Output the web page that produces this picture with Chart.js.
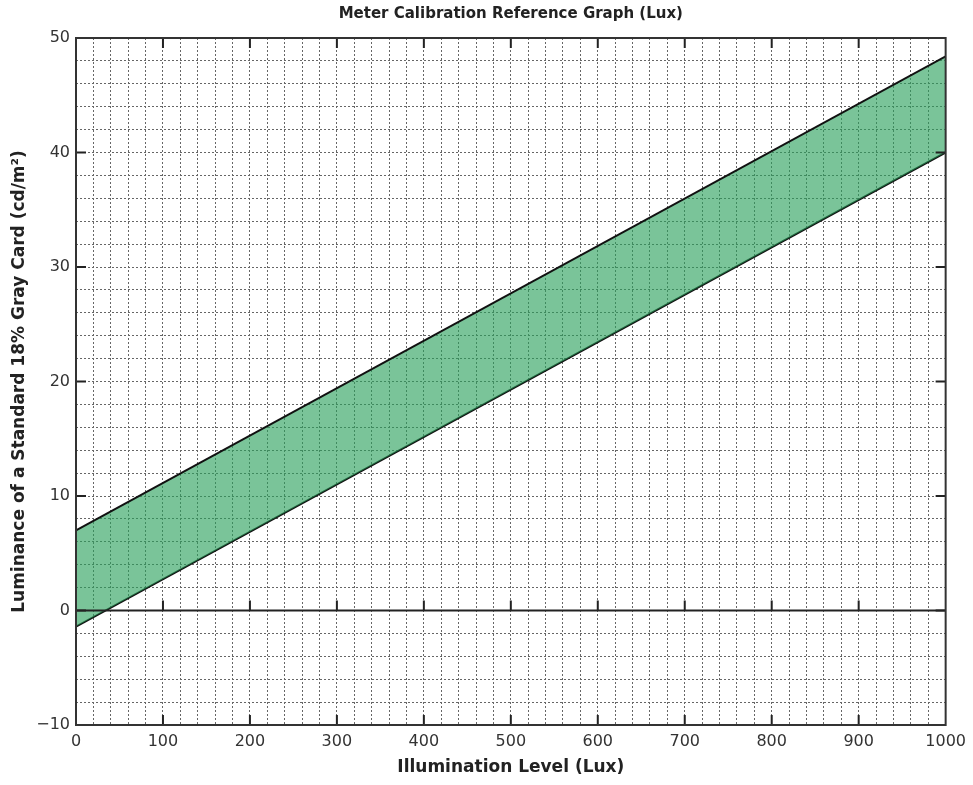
<!DOCTYPE html>
<html>
<head>
<meta charset="utf-8">
<title>Meter Calibration Reference Graph (Lux)</title>
<script src="https://cdn.jsdelivr.net/npm/chart.js@4/dist/chart.umd.min.js"></script>
<style>
  html, body { margin: 0; padding: 0; background: #fff; }
  #wrap { width: 973px; height: 785px; position: relative; }
</style>
</head>
<body>
<div id="wrap"><canvas id="calChart"></canvas></div>
<script>
// illumination (lux) at the two ends of the band
const illumination = [0, 1000];
// upper / lower edge of the acceptable luminance band (cd/m2)
const upperLuminance = [7.0, 48.4];
const lowerLuminance = [-1.4, 40.0];

const xRange = [0, 1000];
const yRange = [-10, 50];

const FONT = 'DejaVu Sans, Verdana, sans-serif';

// frame, zero line and the short inward major ticks
const framePlugin = {
  id: 'frame',
  afterDatasetsDraw(chart) {
    const { ctx, chartArea: a, scales: { x, y } } = chart;
    ctx.save();
    ctx.strokeStyle = '#222';
    ctx.lineWidth = 2;

    // zero reference line
    const y0 = y.getPixelForValue(0);
    ctx.beginPath();
    ctx.moveTo(a.left, y0);
    ctx.lineTo(a.right, y0);
    ctx.stroke();

    // major ticks
    ctx.beginPath();
    for (let v = xRange[0] + 100; v < xRange[1]; v += 100) {
      const px = x.getPixelForValue(v);
      ctx.moveTo(px, a.top); ctx.lineTo(px, a.top + 10);
      ctx.moveTo(px, a.bottom); ctx.lineTo(px, a.bottom - 10);
      ctx.moveTo(px, y0 - 10); ctx.lineTo(px, y0);
    }
    for (let v = yRange[0] + 10; v < yRange[1]; v += 10) {
      const py = y.getPixelForValue(v);
      ctx.moveTo(a.left, py); ctx.lineTo(a.left + 10, py);
      ctx.moveTo(a.right, py); ctx.lineTo(a.right - 10, py);
    }
    ctx.stroke();

    // box
    ctx.strokeStyle = '#333';
    ctx.strokeRect(a.left, a.top, a.right - a.left, a.bottom - a.top);
    ctx.restore();
  }
};

new Chart(document.getElementById('calChart'), {
  type: 'line',
  data: {
    datasets: [
      {
        label: 'Upper limit',
        data: illumination.map((v, i) => ({ x: v, y: upperLuminance[i] })),
        borderColor: '#111',
        borderWidth: 2,
        pointRadius: 0,
        fill: '+1',
        backgroundColor: 'rgba(40,160,90,0.62)'
      },
      {
        label: 'Lower limit',
        data: illumination.map((v, i) => ({ x: v, y: lowerLuminance[i] })),
        borderColor: '#111',
        borderWidth: 2,
        pointRadius: 0,
        fill: false
      }
    ]
  },
  options: {
    responsive: true,
    maintainAspectRatio: false,
    animation: false,
    layout: { padding: { left: 0, right: 26, top: 0, bottom: 0 } },
    plugins: {
      legend: { display: false },
      tooltip: { enabled: false }
    },
    scales: {
      // top axis only carries the chart title so it centres over the plot
      top: {
        type: 'linear',
        position: 'top',
        min: xRange[0],
        max: xRange[1],
        afterFit: s => { s.height = 38; },
        ticks: { display: false },
        grid: { display: false, drawTicks: false },
        border: { display: false },
        title: {
          display: true,
          text: 'Meter Calibration Reference Graph (Lux)',
          color: '#222',
          font: { family: FONT, size: 15, weight: 'bold' },
          padding: { top: 5, bottom: 0 }
        }
      },
      x: {
        type: 'linear',
        position: 'bottom',
        min: xRange[0],
        max: xRange[1],
        afterFit: s => { s.height = 60; },
        ticks: {
          stepSize: 20,
          autoSkip: false,
          maxRotation: 0,
          padding: 7,
          color: '#333',
          font: { family: FONT, size: 16 },
          callback: v => (v % 100 === 0 ? String(v) : '')
        },
        grid: { color: '#666', lineWidth: 1, drawTicks: false },
        border: { display: false, dash: [2, 2] },
        title: {
          display: true,
          text: 'Illumination Level (Lux)',
          color: '#222',
          font: { family: FONT, size: 17, weight: 'bold' },
          padding: { top: 0, bottom: 7 }
        }
      },
      y: {
        type: 'linear',
        min: yRange[0],
        max: yRange[1],
        afterFit: s => { s.width = 76; },
        ticks: {
          stepSize: 2,
          autoSkip: false,
          padding: 6,
          color: '#333',
          font: { family: FONT, size: 16 },
          callback: v => (v % 10 === 0 ? (v < 0 ? '\u2212' + Math.abs(v) : String(v)) : '')
        },
        grid: { color: '#666', lineWidth: 1, drawTicks: false },
        border: { display: false, dash: [2, 2] },
        title: {
          display: true,
          text: 'Luminance of a Standard 18% Gray Card (cd/m\u00B2)',
          color: '#222',
          font: { family: FONT, size: 17, weight: 'bold' },
          padding: { top: 9, bottom: 0 }
        }
      }
    }
  },
  plugins: [framePlugin]
});
</script>
</body>
</html>
